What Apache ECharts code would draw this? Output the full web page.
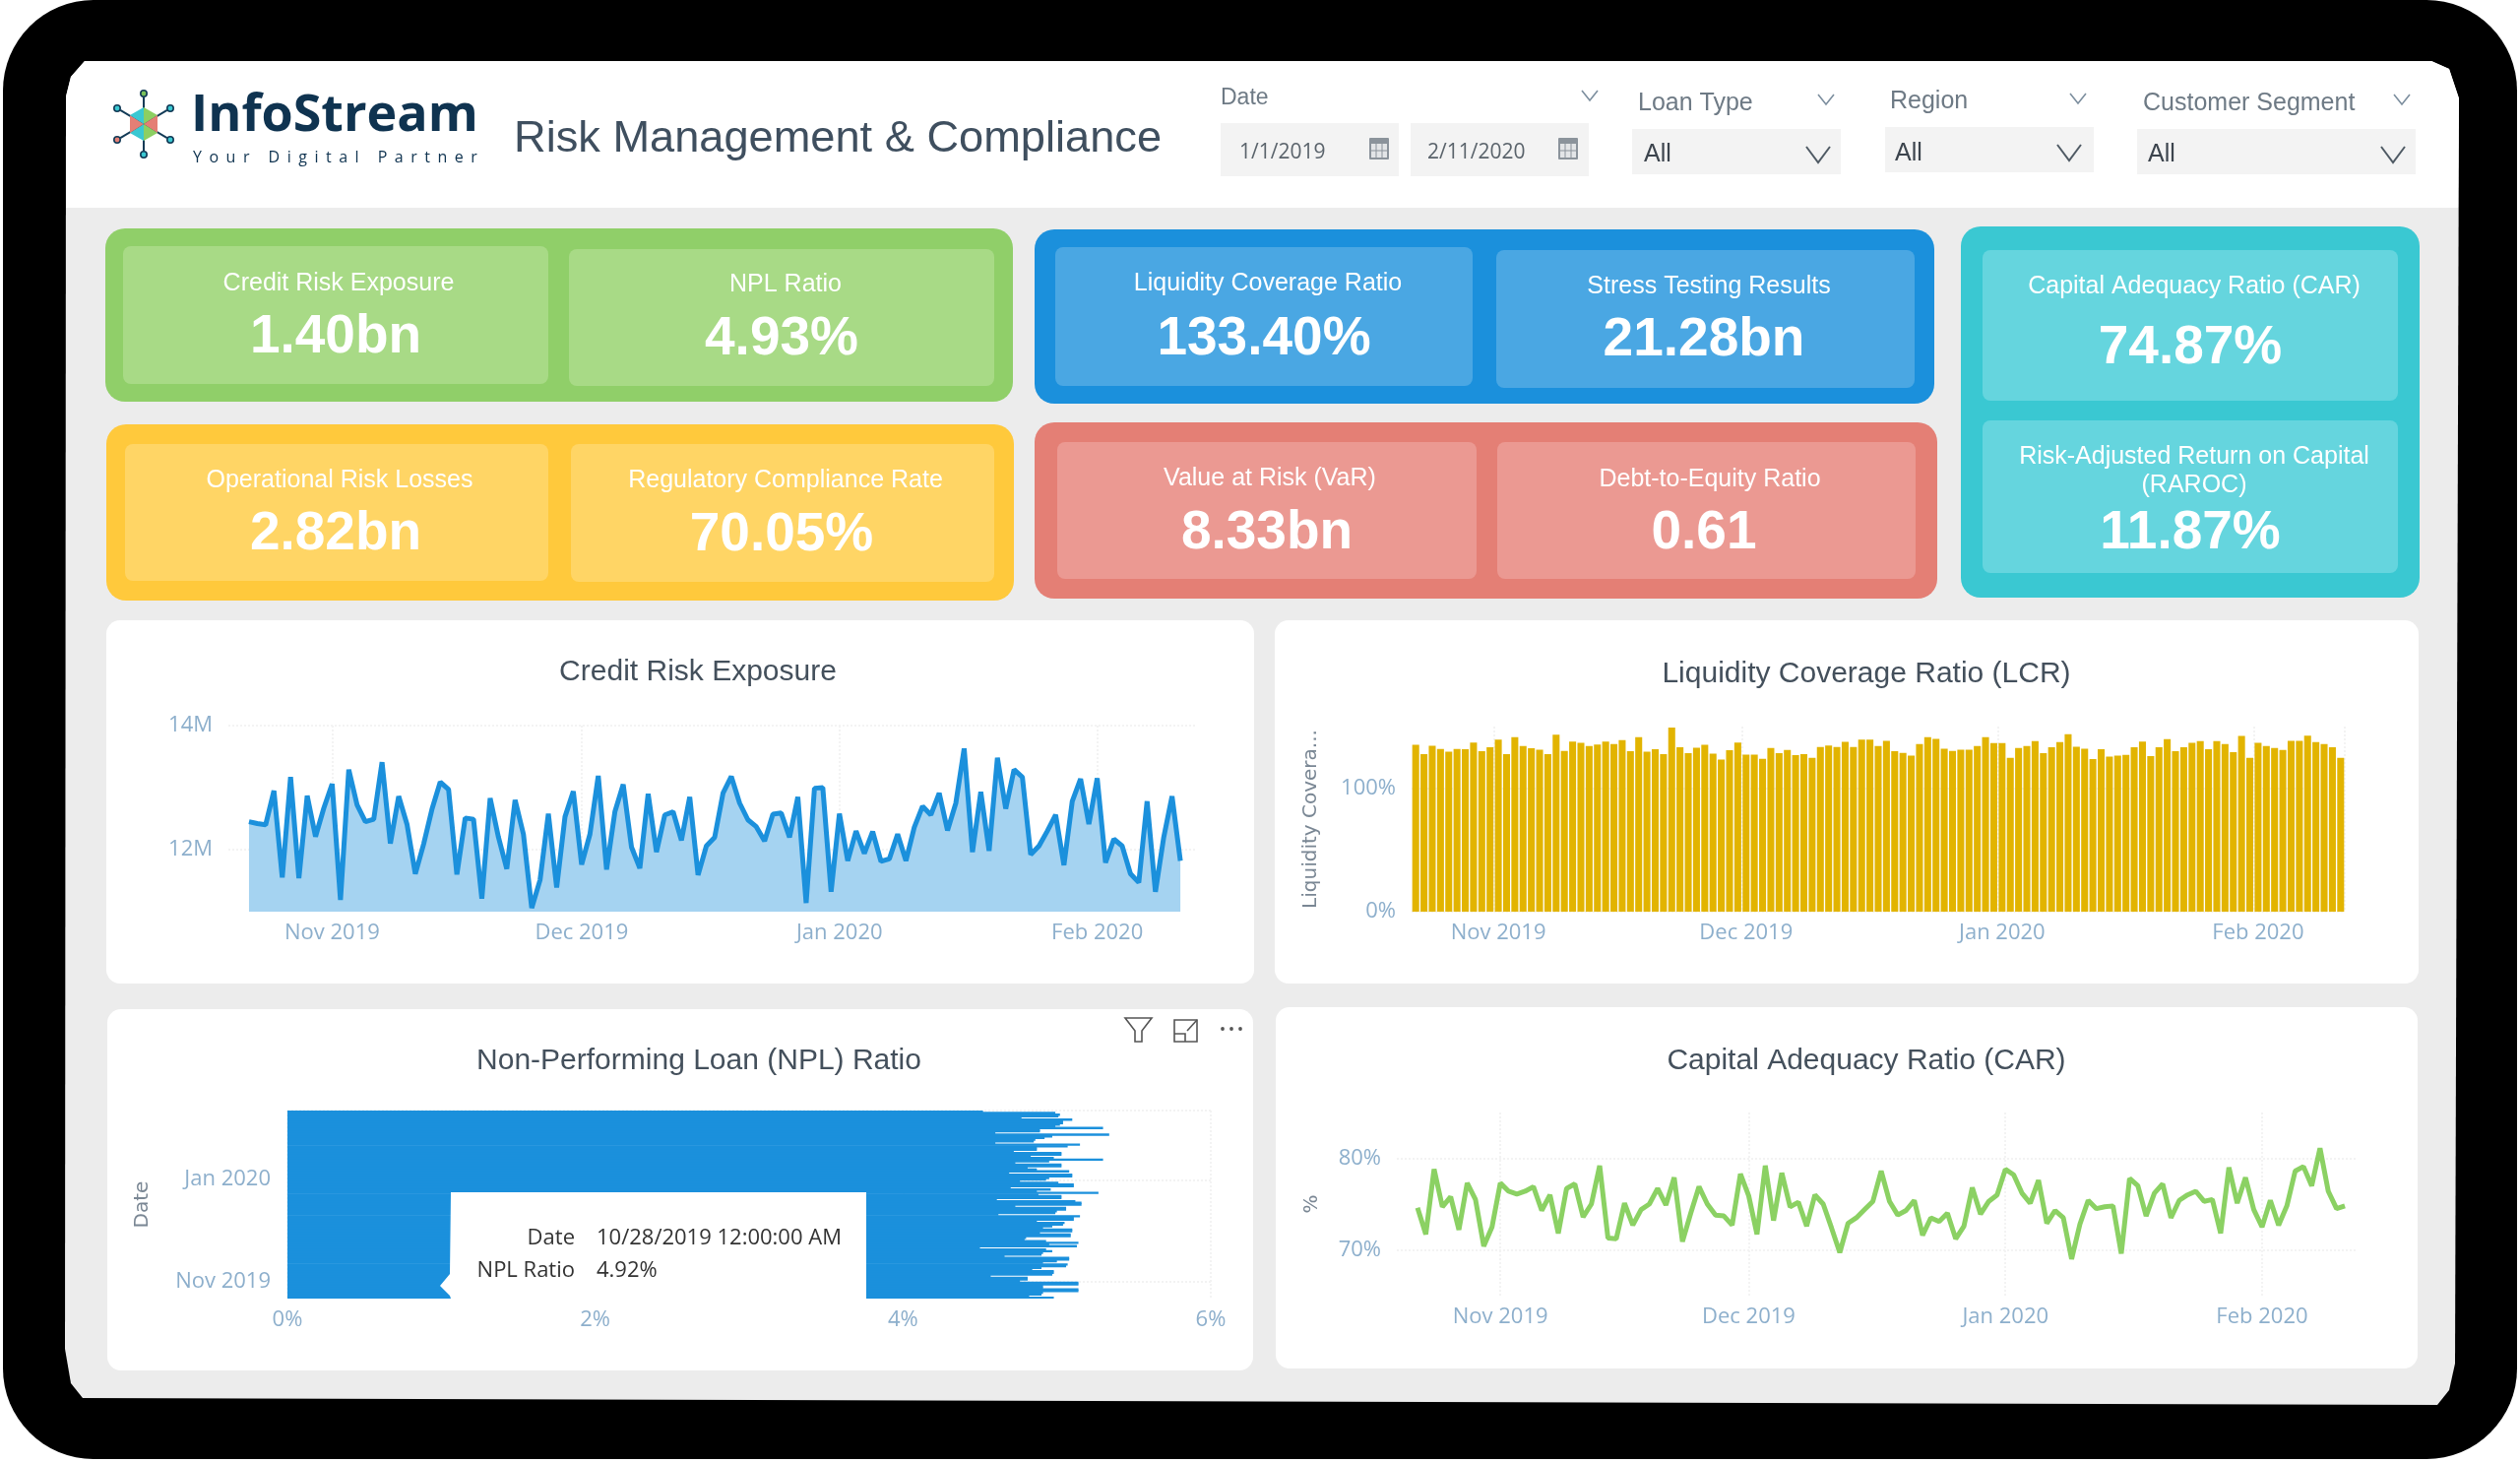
<!DOCTYPE html>
<html><head><meta charset="utf-8">
<style>html,body{margin:0;padding:0;background:#fff}#c{width:2560px;height:1486px;position:absolute;left:0;top:0}
#tag{position:absolute;left:196px;top:148px;font:500 16px "Open Sans",sans-serif;letter-spacing:7.5px;color:#0f3350;white-space:nowrap}</style>
<script src="https://cdn.jsdelivr.net/npm/echarts@6/dist/echarts.min.js"></script>
</head><body><div id="c"></div><div id="tag">Your Digital Partner</div>
<script>
// ---------- data ----------
const firstDay = [2019, 9, 22];
const dayCount = 113;
const monthTickDates = [[2019,10,1],[2019,11,1],[2020,0,1],[2020,1,1]];
const monthTickLabels = ['Nov 2019','Dec 2019','Jan 2020','Feb 2020'];
const npMonthTickDates = [[2019,10,1],[2020,0,1]];
const npMonthTickLabels = ['Nov 2019','Jan 2020'];

const creditExposureM = [12.45,12.42,12.40,12.95,11.55,13.17,11.54,12.87,12.21,12.67,13.06,11.19,13.29,12.72,12.45,12.49,13.41,12.10,12.86,12.41,11.61,12.09,12.65,13.09,12.97,11.60,12.51,12.49,11.21,12.83,12.20,11.69,12.80,12.25,11.06,11.51,12.58,11.39,12.53,12.94,11.76,12.25,13.19,11.68,12.61,13.05,12.04,11.70,12.90,11.96,12.56,12.61,12.15,12.85,11.59,12.06,12.20,12.91,13.18,12.75,12.48,12.37,12.14,12.57,12.59,12.20,12.85,11.14,12.99,13.00,11.32,12.58,11.82,12.30,11.94,12.29,11.81,11.85,12.25,11.82,12.36,12.70,12.56,12.91,12.31,12.75,13.63,11.96,12.93,11.98,13.48,12.66,13.29,13.17,11.92,12.06,12.30,12.56,11.75,12.78,13.14,12.41,13.15,11.79,12.17,12.06,11.61,11.47,12.78,11.32,12.20,12.86,11.82];

const liquidityPct = [135.3,127.6,134.5,131.8,129.7,131.8,131.6,137.1,130.0,133.2,139.5,127.6,141.4,134.2,132.4,131.3,127.6,143.5,130.2,137.9,136.9,134.2,135.5,137.9,135.8,139.0,130.0,141.4,129.7,131.6,127.6,149.3,133.2,128.4,132.9,135.3,128.1,123.3,130.8,137.1,127.3,127.3,123.9,132.6,128.4,131.0,126.8,127.6,124.7,133.4,134.7,133.4,137.7,133.4,139.5,139.5,134.2,138.5,130.0,128.6,126.5,135.8,141.4,140.1,132.1,130.2,131.3,131.3,134.2,141.4,136.6,136.6,124.7,132.6,134.2,138.2,128.4,133.2,137.4,143.8,133.7,132.1,123.6,131.6,125.7,126.5,127.1,133.2,137.9,126.0,133.2,139.8,130.0,133.2,136.9,138.2,131.6,138.2,135.8,129.2,142.4,124.7,136.9,134.2,132.6,131.0,138.5,138.5,142.7,137.4,135.8,133.2,124.7];

const nplRatioPct = [4.98,4.82,4.90,4.91,5.14,5.14,4.91,4.91,5.14,5.14,4.76,4.81,4.81,4.57,4.97,4.98,4.98,4.84,4.90,5.06,5.07,4.91,5.00,5.08,5.08,4.66,4.90,4.91,4.97,4.93,4.50,5.13,4.95,5.14,4.93,4.79,4.80,5.09,5.09,4.89,5.10,5.10,4.91,4.97,5.04,5.05,4.87,5.11,5.11,5.15,4.62,4.99,5.00,5.06,5.06,4.73,5.16,5.16,5.12,4.61,5.03,5.03,4.88,5.27,4.87,4.96,4.70,5.11,5.11,5.01,4.76,4.93,4.95,5.10,5.10,4.69,5.08,4.87,4.81,5.03,5.03,4.73,4.95,5.30,4.98,4.83,5.03,5.03,4.72,4.87,4.87,5.07,5.15,4.60,4.85,4.86,4.92,4.97,5.34,4.60,4.89,4.89,5.30,4.99,5.02,5.04,5.04,5.10,4.77,5.01,5.02,4.99,4.52];

const capitalAdequacyPct = [74.6,71.7,78.8,74.7,75.8,72.2,77.3,75.5,70.4,72.5,77.3,76.4,76.1,76.4,76.9,74.3,76.0,71.8,76.7,77.2,73.6,75.0,79.2,71.3,71.2,75.1,72.7,74.4,75.0,76.7,74.9,77.9,70.9,74.0,76.9,75.0,73.8,73.7,72.7,78.3,75.9,71.7,79.2,73.2,78.4,74.7,75.2,72.6,76.0,75.0,72.4,69.7,72.9,73.5,74.4,75.3,78.6,75.3,73.8,74.3,75.4,71.6,73.5,73.1,74.0,71.2,72.6,76.8,73.9,75.3,76.0,78.8,78.2,76.2,75.1,77.6,72.9,74.3,73.5,69.0,72.8,75.4,74.5,74.7,74.8,69.6,77.8,77.0,73.7,76.2,77.2,73.5,75.4,76.0,76.4,75.3,75.5,71.8,79.0,75.1,77.9,74.4,72.5,75.4,72.7,74.8,78.6,79.1,77.0,81.1,76.4,74.5,74.8];

const kpiLabels = ['Credit Risk Exposure','NPL Ratio','Operational Risk Losses','Regulatory Compliance Rate','Liquidity Coverage Ratio','Stress Testing Results','Value at Risk (VaR)','Debt-to-Equity Ratio','Capital Adequacy Ratio (CAR)','Risk-Adjusted Return on Capital\n(RAROC)'];
const kpiValues = ['1.40bn','4.93%','2.82bn','70.05%','133.40%','21.28bn','8.33bn','0.61','74.87%','11.87%'];
const chartTitles = ['Credit Risk Exposure','Liquidity Coverage Ratio (LCR)','Non-Performing Loan (NPL) Ratio','Capital Adequacy Ratio (CAR)'];
const filterLabels = ['Date','Loan Type','Region','Customer Segment'];
const dateFrom = '1/1/2019', dateTo = '2/11/2020', filterAll = 'All';
const tipRows = [['Date','10/28/2019 12:00:00 AM'],['NPL Ratio','4.92%']];

for (const a of [creditExposureM,liquidityPct,nplRatioPct,capitalAdequacyPct])
  if (a.length !== dayCount) throw new Error('length '+a.length);

// ---------- helpers ----------
const DAY = 86400000;
const ts = d => new Date(d[0], d[1], d[2]).getTime();
const dates = Array.from({length: dayCount}, (_, i) => new Date(firstDay[0], firstDay[1], firstDay[2] + i).getTime());
const pairs = vals => vals.map((v, i) => [dates[i], v]);
const ticks = monthTickDates.map(ts), npTicks = npMonthTickDates.map(ts);
const TICK = '#8DAFCC', FONT = '"Open Sans"', HEAD = '"Liberation Sans"';
const dotted = {show: true, lineStyle: {type: 'dotted', color: '#f3f3f3', width: 2}};
const labelStyle = {color: TICK, fontFamily: FONT, fontSize: 22};

// continuous date axis for the two line charts
function dayAxis(idx, lead, trail) {
  return {
    type: 'value', gridIndex: idx, min: dates[0] - lead * DAY, max: dates[dayCount - 1] + trail * DAY,
    axisLine: {show: false}, axisTick: {show: false, customValues: ticks},
    axisLabel: Object.assign({customValues: ticks, margin: 11, showMinLabel: true, showMaxLabel: true,
      formatter: v => monthTickLabels[ticks.indexOf(+v)] || ''}, labelStyle),
    splitLine: dotted
  };
}
// one band per day for the two bar charts
function dayBands(idx, vals, labels, margin, extra) {
  const at = (i) => vals.indexOf(dates[i]) >= 0;
  return Object.assign({
    type: 'category', gridIndex: idx, data: dates.map(String),
    axisLine: {show: false},
    axisTick: {show: false, alignWithLabel: true, interval: at},
    axisLabel: Object.assign({interval: at, margin, formatter: v => labels[vals.indexOf(+v)] || ''}, labelStyle),
    splitLine: {show: true, interval: at, lineStyle: dotted.lineStyle}
  }, extra || {});
}
function valueAxis(idx, min, max, vals, fmt, extra) {
  return Object.assign({
    type: 'value', gridIndex: idx, min, max,
    axisLine: {show: false}, axisTick: {show: false, customValues: vals},
    axisLabel: Object.assign({customValues: vals, margin: 16, formatter: fmt}, labelStyle),
    splitLine: dotted
  }, extra || {});
}

// ---------- decoration ----------
const g = [];
const rect = (x, y, w, h, r, fill, z) => g.push({type: 'rect', z: z === undefined ? -20 : z, silent: true,
  shape: {x, y, width: w, height: h, r}, style: {fill}});
const text = (s, x, y, font, fill, align, z, rot) => g.push({type: 'text', z: z === undefined ? -5 : z, silent: true, x, y,
  rotation: rot || 0, style: {text: s, font, fill, align: align || 'center', verticalAlign: 'middle', lineHeight: 29}});
const poly = (pts, fill, z) => g.push({type: 'polygon', z: z === undefined ? -15 : z, silent: true, shape: {points: pts}, style: {fill}});
const line = (pts, stroke, w, z) => g.push({type: 'polyline', z: z === undefined ? -5 : z, silent: true, shape: {points: pts}, style: {stroke, lineWidth: w, fill: null}});

// bezel and screen
rect(3, 0, 2554, 1482, 92, '#000', -30);
poly([[67,98],[72,78],[86,62],[2470,62],[2488,70],[2498,100],[2494,1385],[2488,1412],[2476,1427],[84,1420],[72,1405],[66,1370]], '#ECECEC', -29);
poly([[67,98],[72,78],[86,62],[2470,62],[2488,70],[2498,100],[2497,211],[67,211]], '#fff', -28);

// KPI groups
const cards = [
 [107,232,922,176,'#90CF69'],[108,431,922,179,'#FFC93C'],[1051,233,914,177,'#1B90DC'],[1051,429,917,179,'#E47F75'],[1992,230,466,377,'#3AC8D2']];
cards.forEach(c => rect(c[0], c[1], c[2], c[3], 20, c[4]));
const inner = [
 [125,250,432,140,'#A8DA86'],[578,253,432,139,'#A8DA86'],[127,451,430,139,'#FFD565'],[580,451,430,140,'#FFD565'],
 [1072,251,424,141,'#4AA7E3'],[1520,254,425,140,'#4AA7E3'],[1074,449,426,139,'#EB9992'],[1521,449,425,139,'#EB9992'],
 [2014,254,422,153,'#65D5DE'],[2014,427,422,155,'#65D5DE']];
inner.forEach(c => rect(c[0], c[1], c[2], c[3], 8, c[4], -19));
const kpiPos = [[344,288,341,343],[798,289,794,345],[345,488,341,543],[798,488,794,544],[1288,288,1284,345],[1736,291,1731,346],[1290,486,1287,542],[1737,487,1731,542],[2229,291,2225,354],[2229,479,2225,542]];
kpiPos.forEach((p, i) => {
  text(kpiLabels[i], p[0], p[1], '25px ' + HEAD, '#fff');
  text(kpiValues[i], p[2], p[3], 'bold 55px ' + HEAD, '#fff');
});

// chart panels and titles
[[108,630,1166,369],[1295,630,1162,369],[109,1025,1164,367],[1296,1023,1160,367]].forEach(p => rect(p[0], p[1], p[2], p[3], 14, '#fff'));
[[709,683],[1896,685],[710,1078],[1896,1078]].forEach((p, i) => text(chartTitles[i], p[0], p[1], '30px ' + HEAD, '#44505C'));

// header
text('InfoStream', 194, 118, 'bold 52px ' + FONT, '#0F3350', 'left');
text('Risk Management & Compliance', 522, 142, '45.2px ' + HEAD, '#3F4F5F', 'left');
const fl = '25px ' + HEAD, flc = '#6E7A85';
text(filterLabels[0], 1240, 100, '23px ' + HEAD, flc, 'left');
text(filterLabels[1], 1664, 105, fl, flc, 'left');
text(filterLabels[2], 1920, 103, fl, flc, 'left');
text(filterLabels[3], 2177, 105, fl, flc, 'left');
const chev = (x, y, w, h, c, lw) => line([[x - w, y - h], [x, y + h], [x + w, y - h]], c, lw);
chev(1615, 97, 8, 5, '#7C8E9E', 1.6); chev(1855, 101, 8, 5, '#7C8E9E', 1.6); chev(2111, 100, 8, 5, '#7C8E9E', 1.6); chev(2440, 101, 8, 5, '#7C8E9E', 1.6);
rect(1240,125,181,54,0,'#F3F3F3'); rect(1433,125,181,54,0,'#F3F3F3');
rect(1658,131,212,46,0,'#F3F3F3'); rect(1915,129,212,46,0,'#F3F3F3'); rect(2171,131,283,46,0,'#F3F3F3');
text(dateFrom, 1259, 155, '21px ' + FONT, '#5A636B', 'left'); text(dateTo, 1450, 155, '21px ' + FONT, '#5A636B', 'left');
[[1401,150],[1593,150]].forEach(p => {
  rect(p[0]-10, p[1]-10, 20, 22, 1, '#8B939B', -10); rect(p[0]-8, p[1]-4, 16, 14, 0, '#E3E5E7', -9);
  line([[p[0]-3,p[1]-4],[p[0]-3,p[1]+10]], '#8B939B', 1, -8); line([[p[0]+3,p[1]-4],[p[0]+3,p[1]+10]], '#8B939B', 1, -8); line([[p[0]-8,p[1]+3],[p[0]+8,p[1]+3]], '#8B939B', 1, -8);
});
[[1670,157,1847,157],[1925,156,2102,155],[2182,157,2431,157]].forEach(a => {
  text(filterAll, a[0], a[1], '25px ' + HEAD, '#3C444D', 'left'); chev(a[2], a[3], 12, 8, '#4F5A64', 2);
});

// logo mark
const lx = 146, ly = 126, arm = [[0,-31],[27,-16],[27,16],[0,31],[-27,16],[-27,-16]], armC = ['#7BC25A','#3AC8D2','#3AC8D2','#3AC8D2','#E47F75','#3AC8D2'];
arm.forEach((a, i) => {
  line([[lx, ly], [lx + a[0]*.88, ly + a[1]*.88]], '#123A56', 2, -8);
  g.push({type:'circle', z:-7, silent:true, shape:{cx:lx+a[0], cy:ly+a[1], r:3.2}, style:{fill:armC[i], stroke:'#123A56', lineWidth:1.6}});
});
const hex = [[0,-17],[14,-9],[14,9],[0,17],[-14,9],[-14,-9]];
const hexC = ['#8CCF62','#E47F75','#8CCF62','#3AC8D2','#E47F75','#3AC8D2'];
hex.forEach((h, i) => { const n = hex[(i + 1) % 6]; poly([[lx+h[0],ly+h[1]],[lx+n[0],ly+n[1]],[lx,ly]], hexC[i], -7); });

// visual header icons
poly([[1143,1034],[1170,1034],[1160,1047],[1160,1058],[1153,1058],[1153,1047]], 'none', 50);
g[g.length-1].style = {fill:'none', stroke:'#555', lineWidth:1.6};
line([[1193,1050],[1193,1058],[1216,1058],[1216,1036],[1193,1036],[1193,1050],[1204,1050],[1204,1058]], '#555', 1.6, 50);
line([[1206,1047],[1216,1036]], '#555', 1.6, 50);
[1242,1251,1260].forEach(x => g.push({type:'circle', z:50, silent:true, shape:{cx:x, cy:1045, r:1.9}, style:{fill:'#555'}}));

// hover tooltip over the NPL bars
poly([[458,1211],[880,1211],[880,1319],[458,1319],[457,1316],[447,1306],[457,1294]], '#fff', 60);
const tipFont = '22px ' + FONT;
tipRows.forEach((r, i) => {
  text(r[0], 584, 1258 + i * 33, tipFont, '#333', 'right', 61);
  text(r[1], 606, 1258 + i * 33, tipFont, '#333', 'left', 61);
});

// ---------- chart ----------
const nameStyle = {color: '#7A8794', fontFamily: '"DejaVu Sans"', fontSize: 20};
const option = {
  animation: false,
  backgroundColor: 'transparent',
  graphic: {elements: g},
  grid: [
    {left: 232, top: 737, width: 984, height: 189},
    {left: 1434, top: 738, width: 948, height: 188},
    {left: 292, top: 1128, width: 938, height: 191},
    {left: 1419, top: 1130, width: 974, height: 186}
  ],
  xAxis: [
    dayAxis(0, 2.48, 2.0),
    dayBands(1, ticks, monthTickLabels, 11),
    {type: 'value', gridIndex: 2, min: 0, max: 6, interval: 2, axisLine: {show: false}, axisTick: {show: false},
      axisLabel: Object.assign({margin: 11, formatter: '{value}%'}, labelStyle), splitLine: dotted},
    dayAxis(3, 2.5, 1.3)
  ],
  yAxis: [
    valueAxis(0, 11, 14, [12, 14], v => v + 'M'),
    valueAxis(1, 0, 150, [0, 100], v => v + '%', {name: 'Liquidity Covera...', nameLocation: 'middle', nameGap: 92, nameRotate: 90, nameTextStyle: nameStyle}),
    dayBands(2, npTicks, npMonthTickLabels, 17, {name: 'Date', nameLocation: 'middle', nameGap: 137, nameRotate: 90, nameTextStyle: nameStyle}),
    valueAxis(3, 65, 85, [70, 80], v => v + '%', {name: '%', nameLocation: 'middle', nameGap: 76, nameRotate: 90, nameTextStyle: nameStyle})
  ],
  series: [
    {type: 'line', xAxisIndex: 0, yAxisIndex: 0, data: pairs(creditExposureM), showSymbol: false, symbol: 'none',
      lineStyle: {color: '#1B90DC', width: 5}, areaStyle: {color: '#A5D3F1', opacity: 1, origin: 'start'}},
    {type: 'bar', xAxisIndex: 1, yAxisIndex: 1, data: liquidityPct, barCategoryGap: '16%', itemStyle: {color: '#E2B400'}},
    {type: 'bar', xAxisIndex: 2, yAxisIndex: 2, data: nplRatioPct, barWidth: 2.4, itemStyle: {color: '#1B90DC'}},
    {type: 'line', xAxisIndex: 3, yAxisIndex: 3, data: pairs(capitalAdequacyPct), showSymbol: false, symbol: 'none',
      lineStyle: {color: '#8BD163', width: 5}}
  ]
};
const chart = echarts.init(document.getElementById('c'), null, {width: 2560, height: 1486});
chart.setOption(option);
</script></body></html>
